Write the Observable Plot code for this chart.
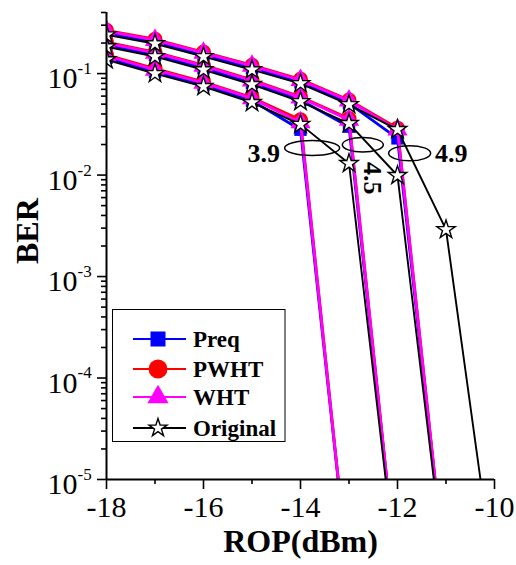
<!DOCTYPE html>
<html>
<head>
<meta charset="utf-8">
<script src="https://cdn.jsdelivr.net/npm/d3@7"></script>
<script src="https://cdn.jsdelivr.net/npm/@observablehq/plot@0.6"></script>
<style>
  html, body { margin: 0; padding: 0; background: #fff; }
  #chart { width: 516px; height: 565px; }
</style>
</head>
<body>
<div id="chart"></div>
<script>
// ---- data ----
const ropA = [-18, -17, -16, -15, -14, -13, -12];            // group "3.9"
const ropB = [-18, -17, -16, -15, -14, -13, -12, -11];       // group "4.5"
const ropC = [-18, -17, -16, -15, -14, -13, -12, -11, -10];  // group "4.9"

const preqA = [0.143, 0.104, 0.077, 0.054, 0.028, 1e-6];
const preqB = [0.191, 0.152, 0.113, 0.081, 0.055, 0.030, 1e-6];
const preqC = [0.250, 0.204, 0.152, 0.113, 0.082, 0.051, 0.023, 1e-6];

const pwhtA = [0.153, 0.112, 0.083, 0.058, 0.035, 1e-6];
const pwhtB = [0.204, 0.163, 0.121, 0.087, 0.059, 0.036, 1e-6];
const pwhtC = [0.267, 0.218, 0.163, 0.121, 0.088, 0.055, 0.029, 1e-6];

const whtA = [0.150, 0.109, 0.081, 0.057, 0.033, 1e-6];
const whtB = [0.200, 0.160, 0.119, 0.085, 0.058, 0.035, 1e-6];
const whtC = [0.262, 0.214, 0.160, 0.119, 0.086, 0.054, 0.028, 1e-6];

const origA = [0.137, 0.100, 0.0745, 0.0519, 0.0316, 0.0130, 1e-6];
const origB = [0.184, 0.147, 0.109, 0.078, 0.053, 0.0322, 0.0099, 1e-6];
const origC = [0.241, 0.197, 0.147, 0.109, 0.0797, 0.0495, 0.0281, 0.0029, 1e-6];

const seriesNames = ["Preq", "PWHT", "WHT", "Original"];
const groupNames = ["3.9", "4.5", "4.9"];

// annotations: ellipse centres and labels
const ellipseX = [-13.76, -12.715, -11.75];
const ellipseY = [0.0185, 0.0199, 0.0164];
const labelText = ["3.9", "4.5", "4.9"];
const labelX = [-14.76, -12.515, -10.89];
const labelY = [0.0163, 0.0093, 0.0163];

// axis ticks
const xMajor = [-18, -16, -14, -12, -10];
const xMinor = [-17, -15, -13, -11];
const yMajor = [1e-5, 1e-4, 1e-3, 1e-2, 1e-1];
const yMinor = [
  2e-5,3e-5,4e-5,5e-5,6e-5,7e-5,8e-5,9e-5,
  2e-4,3e-4,4e-4,5e-4,6e-4,7e-4,8e-4,9e-4,
  2e-3,3e-3,4e-3,5e-3,6e-3,7e-3,8e-3,9e-3,
  2e-2,3e-2,4e-2,5e-2,6e-2,7e-2,8e-2,9e-2,
  0.2,0.3,0.4
];

// ---- build tables ----
function rows(series, lists) {
  const ropLists = [ropA, ropB, ropC];
  const out = [];
  lists.forEach((vals, g) => {
    vals.forEach((v, i) => out.push({series, group: groupNames[g], rop: ropLists[g][i], ber: v}));
  });
  return out;
}
const preq = rows("Preq", [preqA, preqB, preqC]);
const pwht = rows("PWHT", [pwhtA, pwhtB, pwhtC]);
const wht = rows("WHT", [whtA, whtB, whtC]);
const orig = rows("Original", [origA, origB, origC]);
const ellipses = ellipseX.map((x, i) => ({x, y: ellipseY[i]}));
const labels = labelText.map((t, i) => ({t, x: labelX[i], y: labelY[i]}));

function ellipseSymbol(a, b) {
  const k = 0.5523;
  return {
    draw(ctx) {
      ctx.moveTo(a, 0);
      ctx.bezierCurveTo(a, b * k, a * k, b, 0, b);
      ctx.bezierCurveTo(-a * k, b, -a, b * k, -a, 0);
      ctx.bezierCurveTo(-a, -b * k, -a * k, -b, 0, -b);
      ctx.bezierCurveTo(a * k, -b, a, -b * k, a, 0);
      ctx.closePath();
    }
  };
}

const font = "'Liberation Serif', 'Times New Roman', serif";
const colors = {Preq: "#0000ff", PWHT: "#ff0000", WHT: "#ff00ff", Original: "#000000"};

const chart = Plot.plot({
  width: 516,
  height: 565,
  marginLeft: 106,
  marginRight: 22,
  marginTop: 12,
  marginBottom: 86,
  style: {fontFamily: font, color: "#000", background: "#fff", overflow: "visible"},
  x: {domain: [-18, -10], label: null},
  y: {type: "log", domain: [1e-5, 0.4], label: null},
  marks: [
    // series
    Plot.line(preq, {x: "rop", y: "ber", z: "group", stroke: colors.Preq, strokeWidth: 2.8, clip: true}),
    Plot.dot(preq, {x: "rop", y: "ber", symbol: "square", fill: colors.Preq, r: 7, clip: true}),
    Plot.line(pwht, {x: "rop", y: "ber", z: "group", stroke: colors.PWHT, strokeWidth: 2.8, clip: true}),
    Plot.dot(pwht, {x: "rop", y: "ber", symbol: "circle", fill: colors.PWHT, r: 7.5, clip: true}),
    Plot.line(wht, {x: "rop", y: "ber", z: "group", stroke: colors.WHT, strokeWidth: 2.8, clip: true}),
    Plot.dot(wht, {x: "rop", y: "ber", symbol: "triangle", fill: colors.WHT, r: 7.5, clip: true}),
    Plot.line(orig, {x: "rop", y: "ber", z: "group", stroke: colors.Original, strokeWidth: 1.9, clip: true}),
    Plot.dot(orig, {x: "rop", y: "ber", symbol: "star", fill: "#fff", stroke: "#000", strokeWidth: 1.4, r: 5.8, clip: true}),
    // annotations
    Plot.dot([ellipses[0]], {x: "x", y: "y", symbol: ellipseSymbol(27.5, 7.5), stroke: "#000", strokeWidth: 1.5, fill: "none"}),
    Plot.dot([ellipses[1]], {x: "x", y: "y", symbol: ellipseSymbol(20.5, 7.3), stroke: "#000", strokeWidth: 1.5, fill: "none"}),
    Plot.dot([ellipses[2]], {x: "x", y: "y", symbol: ellipseSymbol(21, 7.6), stroke: "#000", strokeWidth: 1.5, fill: "none"}),
    Plot.text(labels.filter(d => d.t !== "4.5"), {x: "x", y: "y", text: "t", fontSize: 26, fontWeight: "bold", fill: "#000"}),
    Plot.text(labels.filter(d => d.t === "4.5"), {x: "x", y: "y", text: "t", fontSize: 26, fontWeight: "bold", fill: "#000", rotate: 90}),
    // axes
    Plot.axisX({ticks: xMajor, tickSize: 10, tickPadding: 6, fontSize: 30, strokeWidth: 1.6, tickFormat: d => `${d}`, label: null}),
    Plot.axisX({ticks: xMinor, tickSize: 5, strokeWidth: 1.6, tickFormat: () => "", label: null}),
    Plot.axisY({ticks: yMajor, tickSize: 9, strokeWidth: 1.6, tickFormat: () => "", label: null}),
    Plot.axisY({ticks: yMinor, tickSize: 5, strokeWidth: 1.6, tickFormat: () => "", label: null}),
    Plot.text(yMajor, {y: d => d, frameAnchor: "left", dx: -29, dy: 5, textAnchor: "end", text: () => "10", fontSize: 30, fill: "#000"}),
    Plot.text(yMajor, {y: d => d, frameAnchor: "left", dx: -29, dy: -5, textAnchor: "start", text: d => `${Math.round(Math.log10(d))}`, fontSize: 17, fill: "#000"}),
    Plot.ruleX([-18], {strokeWidth: 2}),
    Plot.ruleY([1e-5], {strokeWidth: 2}),
    // axis titles
    Plot.text(["ROP(dBm)"], {frameAnchor: "bottom", dy: 72, text: d => d, fontSize: 32, fontWeight: "bold", fill: "#000"}),
    Plot.text(["BER"], {frameAnchor: "left", dx: -79, dy: 18, rotate: -90, text: d => d, fontSize: 32, fontWeight: "bold", fill: "#000"})
  ]
});
document.getElementById("chart").appendChild(chart);

// ---- legend (inside the plot, lower left) ----
const svg = d3.select(chart.tagName.toLowerCase() === "svg" ? chart : chart.querySelector("svg"));
const lg = svg.append("g").attr("font-family", font).attr("text-anchor", "start");
lg.append("rect").attr("x", 112.5).attr("y", 309.5).attr("width", 172.5).attr("height", 132)
  .attr("fill", "#fff").attr("stroke", "#000").attr("stroke-width", 1);
const legendSymbols = {
  Preq: {type: d3.symbolSquare, size: 225, fill: colors.Preq, stroke: "none"},
  PWHT: {type: d3.symbolCircle, size: 280, fill: colors.PWHT, stroke: "none"},
  WHT: {type: d3.symbolTriangle, size: 195, fill: colors.WHT, stroke: "none"},
  Original: {type: d3.symbolStar, size: 100, fill: "#fff", stroke: "#000"}
};
const rowY = [339, 369, 397, 428];
seriesNames.forEach((name, i) => {
  const y = rowY[i];
  const s = legendSymbols[name];
  lg.append("line").attr("x1", 133).attr("x2", 186).attr("y1", y).attr("y2", y)
    .attr("stroke", colors[name]).attr("stroke-width", 2);
  lg.append("path").attr("transform", `translate(158,${y})`)
    .attr("d", d3.symbol().type(s.type).size(s.size)())
    .attr("fill", s.fill).attr("stroke", s.stroke).attr("stroke-width", 1.4);
  lg.append("text").attr("x", 193).attr("y", y).attr("dy", "0.35em").attr("text-anchor", "start")
    .attr("font-size", 23).attr("font-weight", "bold").attr("fill", "#000").text(name);
});
</script>
</body>
</html>
